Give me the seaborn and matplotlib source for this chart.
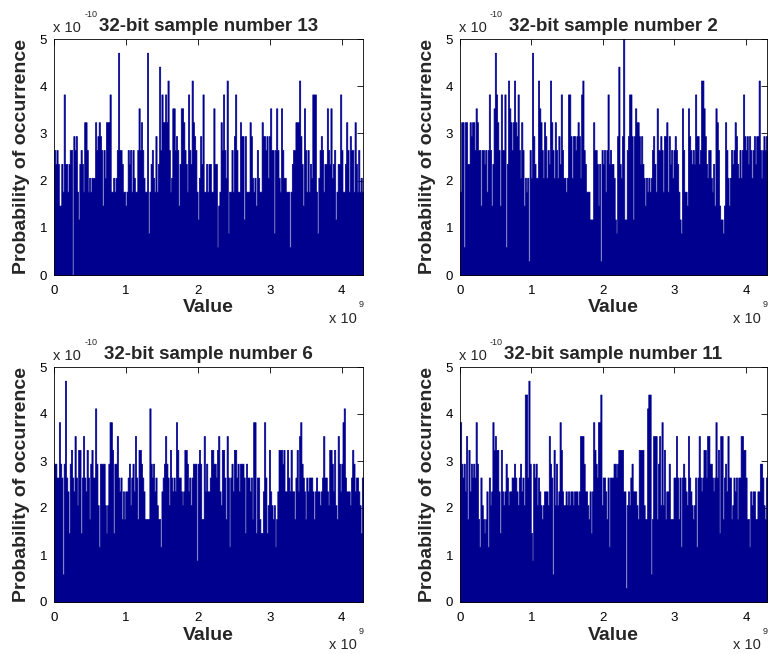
import matplotlib
matplotlib.use("Agg")
import matplotlib.pyplot as plt
import numpy as np
import pandas as pd
import seaborn as sns

# histogram of 32-bit samples, 256 bins over [0, 2^32)
N_BINS = 256
X_MAX = 2**32 / 1e9       # value axis shown in units of 1e9
UNIT = 0.2943             # probability of a single count, in units of 1e-10

SAMPLES = [13, 2, 6, 11]
XTICKS = [0, 1, 2, 3, 4]
YTICKS = [0, 1, 2, 3, 4, 5]

# bin counts
COUNTS_13 = [
    9, 8, 9, 8, 5, 5, 8, 6, 13, 8, 8, 6, 8, 9, 9, 0, 10, 9, 10, 6,
    4, 8, 9, 8, 6, 11, 11, 9, 6, 7, 6, 7, 7, 7, 11, 9, 10, 11, 10, 9,
    5, 9, 7, 11, 11, 11, 13, 6, 6, 7, 6, 7, 9, 16, 9, 9, 8, 6, 6, 5,
    6, 9, 8, 9, 6, 9, 7, 6, 6, 9, 12, 9, 11, 9, 7, 6, 6, 16, 3, 6,
    8, 9, 7, 6, 10, 6, 8, 15, 9, 13, 11, 11, 13, 11, 14, 9, 6, 7, 12, 12,
    9, 10, 9, 5, 8, 12, 12, 11, 9, 8, 6, 13, 9, 8, 14, 11, 10, 9, 6, 4,
    7, 10, 8, 13, 6, 6, 8, 6,
    8, 8, 6, 6, 12, 8, 8, 2, 5, 6, 11, 9, 13, 9, 7, 14, 3, 6, 6, 9,
    6, 10, 13, 9, 6, 6, 11, 10, 10, 4, 10, 6, 6, 6, 11, 10, 7, 6, 7, 5,
    9, 7, 6, 6, 11, 10, 10, 9, 10, 7, 10, 12, 9, 9, 3, 9, 12, 9, 7, 6,
    12, 9, 7, 7, 6, 6, 6, 2, 6, 8, 9, 9, 11, 11, 11, 14, 10, 8, 5, 12,
    9, 6, 9, 6, 8, 7, 13, 13, 13, 6, 3, 7, 9, 10, 9, 6, 8, 8, 12, 9,
    8, 12, 7, 8, 9, 4, 6, 8, 8, 13, 9, 6, 6, 8, 11, 9, 6, 10, 9, 9,
    6, 11, 8, 6, 9, 6, 7, 6,
]
COUNTS_2 = [
    6, 11, 11, 2, 11, 11, 8, 8, 11, 10, 11, 11, 9, 12, 11, 9, 9, 5, 9, 9,
    8, 9, 6, 9, 13, 9, 5, 8, 12, 16, 13, 11, 9, 5, 13, 9, 9, 13, 2, 8,
    14, 12, 11, 9, 11, 14, 11, 10, 13, 9, 7, 11, 9, 5, 7, 6, 7, 1, 9, 7,
    16, 10, 8, 7, 7, 14, 12, 11, 9, 7, 11, 10, 7, 9, 8, 14, 11, 9, 7, 11,
    9, 7, 10, 8, 13, 9, 7, 7, 6, 7, 13, 13, 10, 7, 10, 10, 9, 10, 11, 10,
    7, 13, 14, 9, 8, 6, 6, 6, 4, 4, 4, 11, 9, 9, 8, 5, 8, 1, 9, 8,
    9, 6, 9, 13, 8, 9, 8,
    8, 7, 4, 3, 10, 15, 8, 7, 10, 17, 4, 4, 9, 10, 13, 13, 10, 4, 10, 12,
    11, 11, 10, 8, 10, 8, 7, 5, 7, 6, 7, 6, 7, 9, 10, 8, 6, 12, 9, 9,
    10, 9, 6, 10, 10, 11, 6, 10, 8, 9, 7, 9, 10, 9, 8, 6, 4, 3, 12, 9,
    6, 6, 5, 12, 10, 9, 8, 9, 8, 13, 10, 10, 8, 9, 14, 14, 12, 10, 8, 7,
    9, 9, 7, 6, 8, 5, 12, 11, 9, 5, 4, 4, 3, 5, 11, 9, 7, 5, 7, 9,
    8, 9, 11, 10, 8, 7, 9, 7, 9, 13, 10, 9, 10, 8, 10, 9, 7, 9, 10, 8,
    10, 10, 14, 9, 7, 9, 10, 9, 10,
]
COUNTS_6 = [
    10, 10, 9, 9, 13, 10, 9, 2, 10, 16, 9, 8, 5, 10, 11, 9, 8, 12, 9, 7,
    11, 11, 5, 9, 12, 9, 8, 11, 9, 6, 10, 11, 9, 9, 14, 10, 7, 4, 10, 10,
    10, 10, 7, 5, 7, 10, 13, 13, 11, 5, 10, 10, 12, 9, 8, 9, 6, 8, 6, 8,
    8, 9, 10, 7, 9, 10, 8, 12, 9, 6, 11, 11, 10, 9, 8, 6, 6, 6, 6, 14,
    10, 9, 10, 8, 9, 7, 6, 6, 4, 8, 9, 10, 12, 10, 9, 7, 11, 9, 8, 9,
    8, 13, 11, 9, 9, 8, 7, 8, 11, 11, 10, 8, 9, 7, 9, 10, 10, 10, 3, 10,
    11, 10, 6, 6, 12, 8, 10, 8,
    8, 9, 11, 11, 10, 10, 9, 11, 12, 8, 7, 11, 11, 9, 6, 12, 9, 4, 9, 10,
    8, 11, 11, 9, 10, 8, 10, 10, 10, 9, 5, 10, 9, 9, 8, 9, 6, 13, 13, 5,
    9, 9, 6, 5, 5, 8, 13, 9, 5, 7, 11, 8, 7, 6, 7, 4, 6, 8, 11, 11,
    11, 10, 11, 8, 8, 11, 9, 8, 11, 8, 8, 6, 9, 11, 8, 12, 13, 10, 9, 8,
    6, 9, 8, 9, 9, 9, 8, 6, 8, 9, 8, 8, 7, 8, 9, 12, 9, 9, 8, 7,
    11, 11, 10, 8, 11, 7, 6, 12, 10, 8, 10, 13, 14, 9, 8, 8, 8, 7, 9, 11,
    10, 8, 9, 9, 8, 7, 5, 9,
]
COUNTS_11 = [
    13, 10, 9, 10, 8, 12, 6, 11, 8, 10, 9, 10, 9, 13, 10, 6, 4, 9, 7, 6,
    5, 6, 8, 4, 9, 7, 8, 13, 11, 12, 11, 11, 8, 5, 11, 8, 7, 8, 10, 9,
    7, 8, 8, 9, 9, 10, 9, 8, 7, 9, 10, 8, 9, 7, 15, 15, 9, 16, 10, 5,
    3, 10, 9, 10, 7, 9, 8, 7, 6, 7, 8, 8, 8, 7, 12, 10, 9, 2, 11, 7,
    10, 7, 8, 13, 11, 8, 7, 7, 8, 7, 8, 7, 8, 8, 7, 8, 8, 8, 7, 8,
    12, 12, 12, 10, 8, 8, 7, 6, 8, 5, 8, 13, 11, 10, 9, 13, 13, 15, 7, 9,
    9, 8, 6, 9, 4, 9, 9,
    9, 10, 10, 9, 10, 11, 11, 11, 11, 8, 8, 1, 7, 8, 7, 9, 10, 8, 8, 8,
    7, 6, 11, 11, 11, 11, 7, 6, 6, 14, 15, 15, 2, 6, 12, 12, 12, 6, 10, 12,
    7, 13, 7, 11, 6, 8, 8, 10, 6, 6, 6, 9, 9, 12, 9, 6, 9, 4, 9, 10,
    9, 8, 7, 12, 9, 8, 7, 6, 7, 9, 4, 9, 12, 9, 8, 9, 11, 11, 9, 12,
    12, 10, 10, 9, 8, 9, 13, 9, 11, 5, 12, 12, 6, 9, 10, 8, 12, 9, 9, 6,
    7, 9, 8, 9, 6, 9, 9, 12, 12, 11, 11, 9, 6, 6, 4, 8, 7, 8, 8, 6,
    6, 8, 8, 10, 10, 9, 7, 6, 9,
]
ALL_COUNTS = [COUNTS_13, COUNTS_2, COUNTS_6, COUNTS_11]

BAR_COLOR = "#00008f"

sns.set_style("white")
plt.rcParams["font.family"] = ["Liberation Sans", "DejaVu Sans"]

fig = plt.figure(figsize=(7.68, 6.54), dpi=100)
W, H = 768, 654
# axes boxes in pixels: left, top, right, bottom
boxes = [(54, 39, 363, 275), (460, 39, 767, 275),
         (54, 367, 363, 602), (460, 367, 767, 602)]

for (l, t, r, b), sample, counts in zip(boxes, SAMPLES, ALL_COUNTS):
    ax = fig.add_axes([l / W, 1 - b / H, (r - l) / W, (b - t) / H])
    edges = np.linspace(0, X_MAX, N_BINS + 1)
    df = pd.DataFrame({"value": (edges[:-1] + edges[1:]) / 2,
                       "prob": np.asarray(counts, dtype=float) * UNIT})
    sns.histplot(data=df, x="value", weights="prob", bins=N_BINS,
                 binrange=(0, X_MAX), element="step", fill=True,
                 color=BAR_COLOR, alpha=1, linewidth=0.5,
                 edgecolor=BAR_COLOR, ax=ax)
    ax.set_xlim(0, X_MAX)
    ax.set_ylim(0, 5)
    ax.set_xticks(XTICKS)
    ax.set_yticks(YTICKS)
    ax.tick_params(direction="in", top=True, right=True, length=4, width=0.6,
                   labelsize=9.5, colors="black")
    ax.tick_params(axis="x", pad=7)
    ax.tick_params(axis="y", pad=5)
    for sp in ax.spines.values():
        sp.set_color("black"); sp.set_linewidth(0.6)
    ax.set_title(f"32-bit sample number {sample}", fontsize=13.5,
                 fontweight="bold", pad=6)
    ax.set_xlabel("Value", fontsize=14, fontweight="bold", labelpad=2)
    ax.set_ylabel("Probability of occurrence", fontsize=14,
                  fontweight="bold", labelpad=7)
    # MATLAB-style exponent labels, mantissa and exponent drawn separately
    ax.text(-0.003, 1.03, "x 10", transform=ax.transAxes,
            ha="left", va="baseline", fontsize=10.5)
    ax.text(0.098, 1.093, "-10", transform=ax.transAxes,
            ha="left", va="baseline", fontsize=6.5)
    ax.text(0.981, -0.202, "x 10", transform=ax.transAxes,
            ha="right", va="baseline", fontsize=10.5)
    ax.text(0.985, -0.136, "9", transform=ax.transAxes,
            ha="left", va="baseline", fontsize=6.5)

fig.savefig("out.png", dpi=100)
